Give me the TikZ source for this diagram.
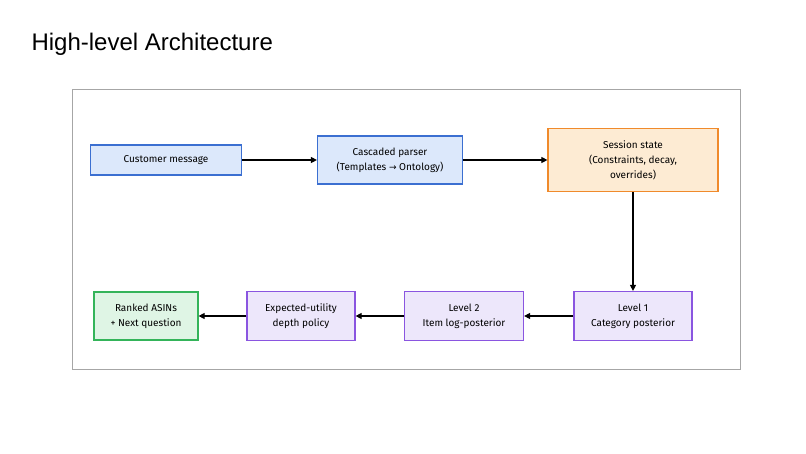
\documentclass[tikz,border=0pt]{standalone}
\usepackage{fontspec}
\setmainfont{Liberation Sans}
\newfontfamily\boxfont{Fira Sans}
\newfontfamily\symfont{DejaVu Sans}
\usetikzlibrary{arrows.meta}
\definecolor{blueFill}{HTML}{DCE8FB}
\definecolor{blueLine}{HTML}{3B6FD1}
\definecolor{orangeFill}{HTML}{FDEBD3}
\definecolor{orangeLine}{HTML}{F08A2B}
\definecolor{purpleFill}{HTML}{EDE7FB}
\definecolor{purpleLine}{HTML}{8A55E0}
\definecolor{greenFill}{HTML}{DFF5E5}
\definecolor{greenLine}{HTML}{34B45A}
\tikzset{
  box/.style={draw, line width=1.2pt, align=center, inner sep=2pt,
    font=\boxfont\fontsize{10}{15}\selectfont},
  bluebox/.style={box, fill=blueFill, draw=blueLine},
  orangebox/.style={box, fill=orangeFill, draw=orangeLine},
  purplebox/.style={box, fill=purpleFill, draw=purpleLine},
  greenbox/.style={box, fill=greenFill, draw=greenLine},
  flow/.style={-{Triangle[length=6pt,width=6pt]}, line width=1.1pt}
}
\begin{document}
\begin{tikzpicture}[x=1pt, y=-1pt]
	\fill[white] (0,0) rectangle (806,453);
	\useasboundingbox (0,0) rectangle (806,453);

	\node[anchor=west, font=\fontsize{24}{28}\selectfont] at (28,44) (title) {High-level Architecture};
	\draw[gray!70, line width=0.8pt] (72,89) rectangle (740,369);

	\node[bluebox, minimum width=151pt, minimum height=30pt] at (166,160) (msg) {Customer message};
	\node[bluebox, minimum width=145pt, minimum height=48pt] at (390,160) (parser) {Cascaded parser\\(Templates {\symfont\fontsize{9}{15}\selectfont →} Ontology)};
	\node[orangebox, minimum width=170pt, minimum height=63pt] at (633,160) (state) {Session state\\(Constraints, decay,\\overrides)};

	\node[purplebox, minimum width=118pt, minimum height=49pt] at (633,316) (lvlone) {Level 1\\Category posterior};
	\node[purplebox, minimum width=119pt, minimum height=49pt] at (464,316) (lvltwo) {Level 2\\Item log-posterior};
	\node[purplebox, minimum width=108pt, minimum height=49pt] at (301,316) (policy) {Expected-utility\\depth policy};
	\node[greenbox, minimum width=104pt, minimum height=48pt] at (146,316) (ranked) {Ranked ASINs\\+ Next question};

	\draw[flow] (msg) -- (parser);
	\draw[flow] (parser) -- (state);
	\draw[flow] (state) -- (lvlone);
	\draw[flow] (lvlone) -- (lvltwo);
	\draw[flow] (lvltwo) -- (policy);
	\draw[flow] (policy) -- (ranked);
\end{tikzpicture}
\end{document}
